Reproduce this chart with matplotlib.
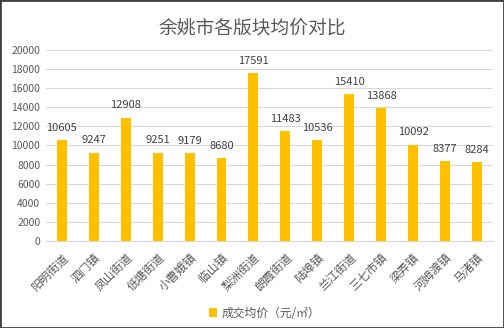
import matplotlib.pyplot as plt
import matplotlib.patches as mpatches

plt.rcParams['font.family'] = ['Noto Sans CJK SC', 'DejaVu Sans']

areas = ['阳明街道', '泗门镇', '凤山街道', '低塘街道', '小曹娥镇', '临山镇', '梨洲街道',
         '朗霞街道', '陆埠镇', '兰江街道', '三七市镇', '梁弄镇', '河姆渡镇', '马渚镇']
prices = [10605, 9247, 12908, 9251, 9179, 8680, 17591,
          11483, 10536, 15410, 13868, 10092, 8377, 8284]
yticks = [0, 2000, 4000, 6000, 8000, 10000, 12000, 14000, 16000, 18000, 20000]

txt = '#595959'
fig = plt.figure(figsize=(5.04, 3.28), dpi=100)
fig.patches.append(mpatches.Rectangle((0, 0), 1, 1, transform=fig.transFigure,
                                      fill=False, edgecolor='#404040', linewidth=2))
ax = fig.add_axes([0.091, 0.265, 0.887, 0.583])

x = range(len(areas))
bars = ax.bar(x, prices, width=0.31, color='#FFC000', label='成交均价（元/㎡）', zorder=3)
for xi, v in zip(x, prices):
    ax.text(xi, v + 750, str(v), ha='center', va='bottom', fontsize=8, color='#404040')

ax.set_xlim(-0.5, len(areas) - 0.5)
ax.set_ylim(0, 20000)
ax.set_yticks(yticks)
ax.set_yticklabels([str(t) for t in yticks], fontsize=7.5, color=txt)
ax.set_xticks(list(x))
ax.set_xticklabels(areas, rotation=45, ha='right', rotation_mode='anchor',
                   fontsize=8.5, color=txt)
ax.tick_params(length=0, pad=4)
ax.tick_params(axis='x', pad=7)
ax.grid(axis='y', color='#D9D9D9', linewidth=0.8, zorder=0)
for s in ['top', 'right', 'left']:
    ax.spines[s].set_visible(False)
ax.spines['bottom'].set_color('#D9D9D9')

fig.text(0.5, 0.915, '余姚市各版块均价对比', ha='center', va='center', fontsize=13.5, color=txt)
fig.legend(handles=[bars], loc='center', bbox_to_anchor=(0.525, 0.045), frameon=False,
           fontsize=8.5, labelcolor=txt, handlelength=0.7, handleheight=0.7, handletextpad=0.4)

fig.savefig('out.png', dpi=100)
